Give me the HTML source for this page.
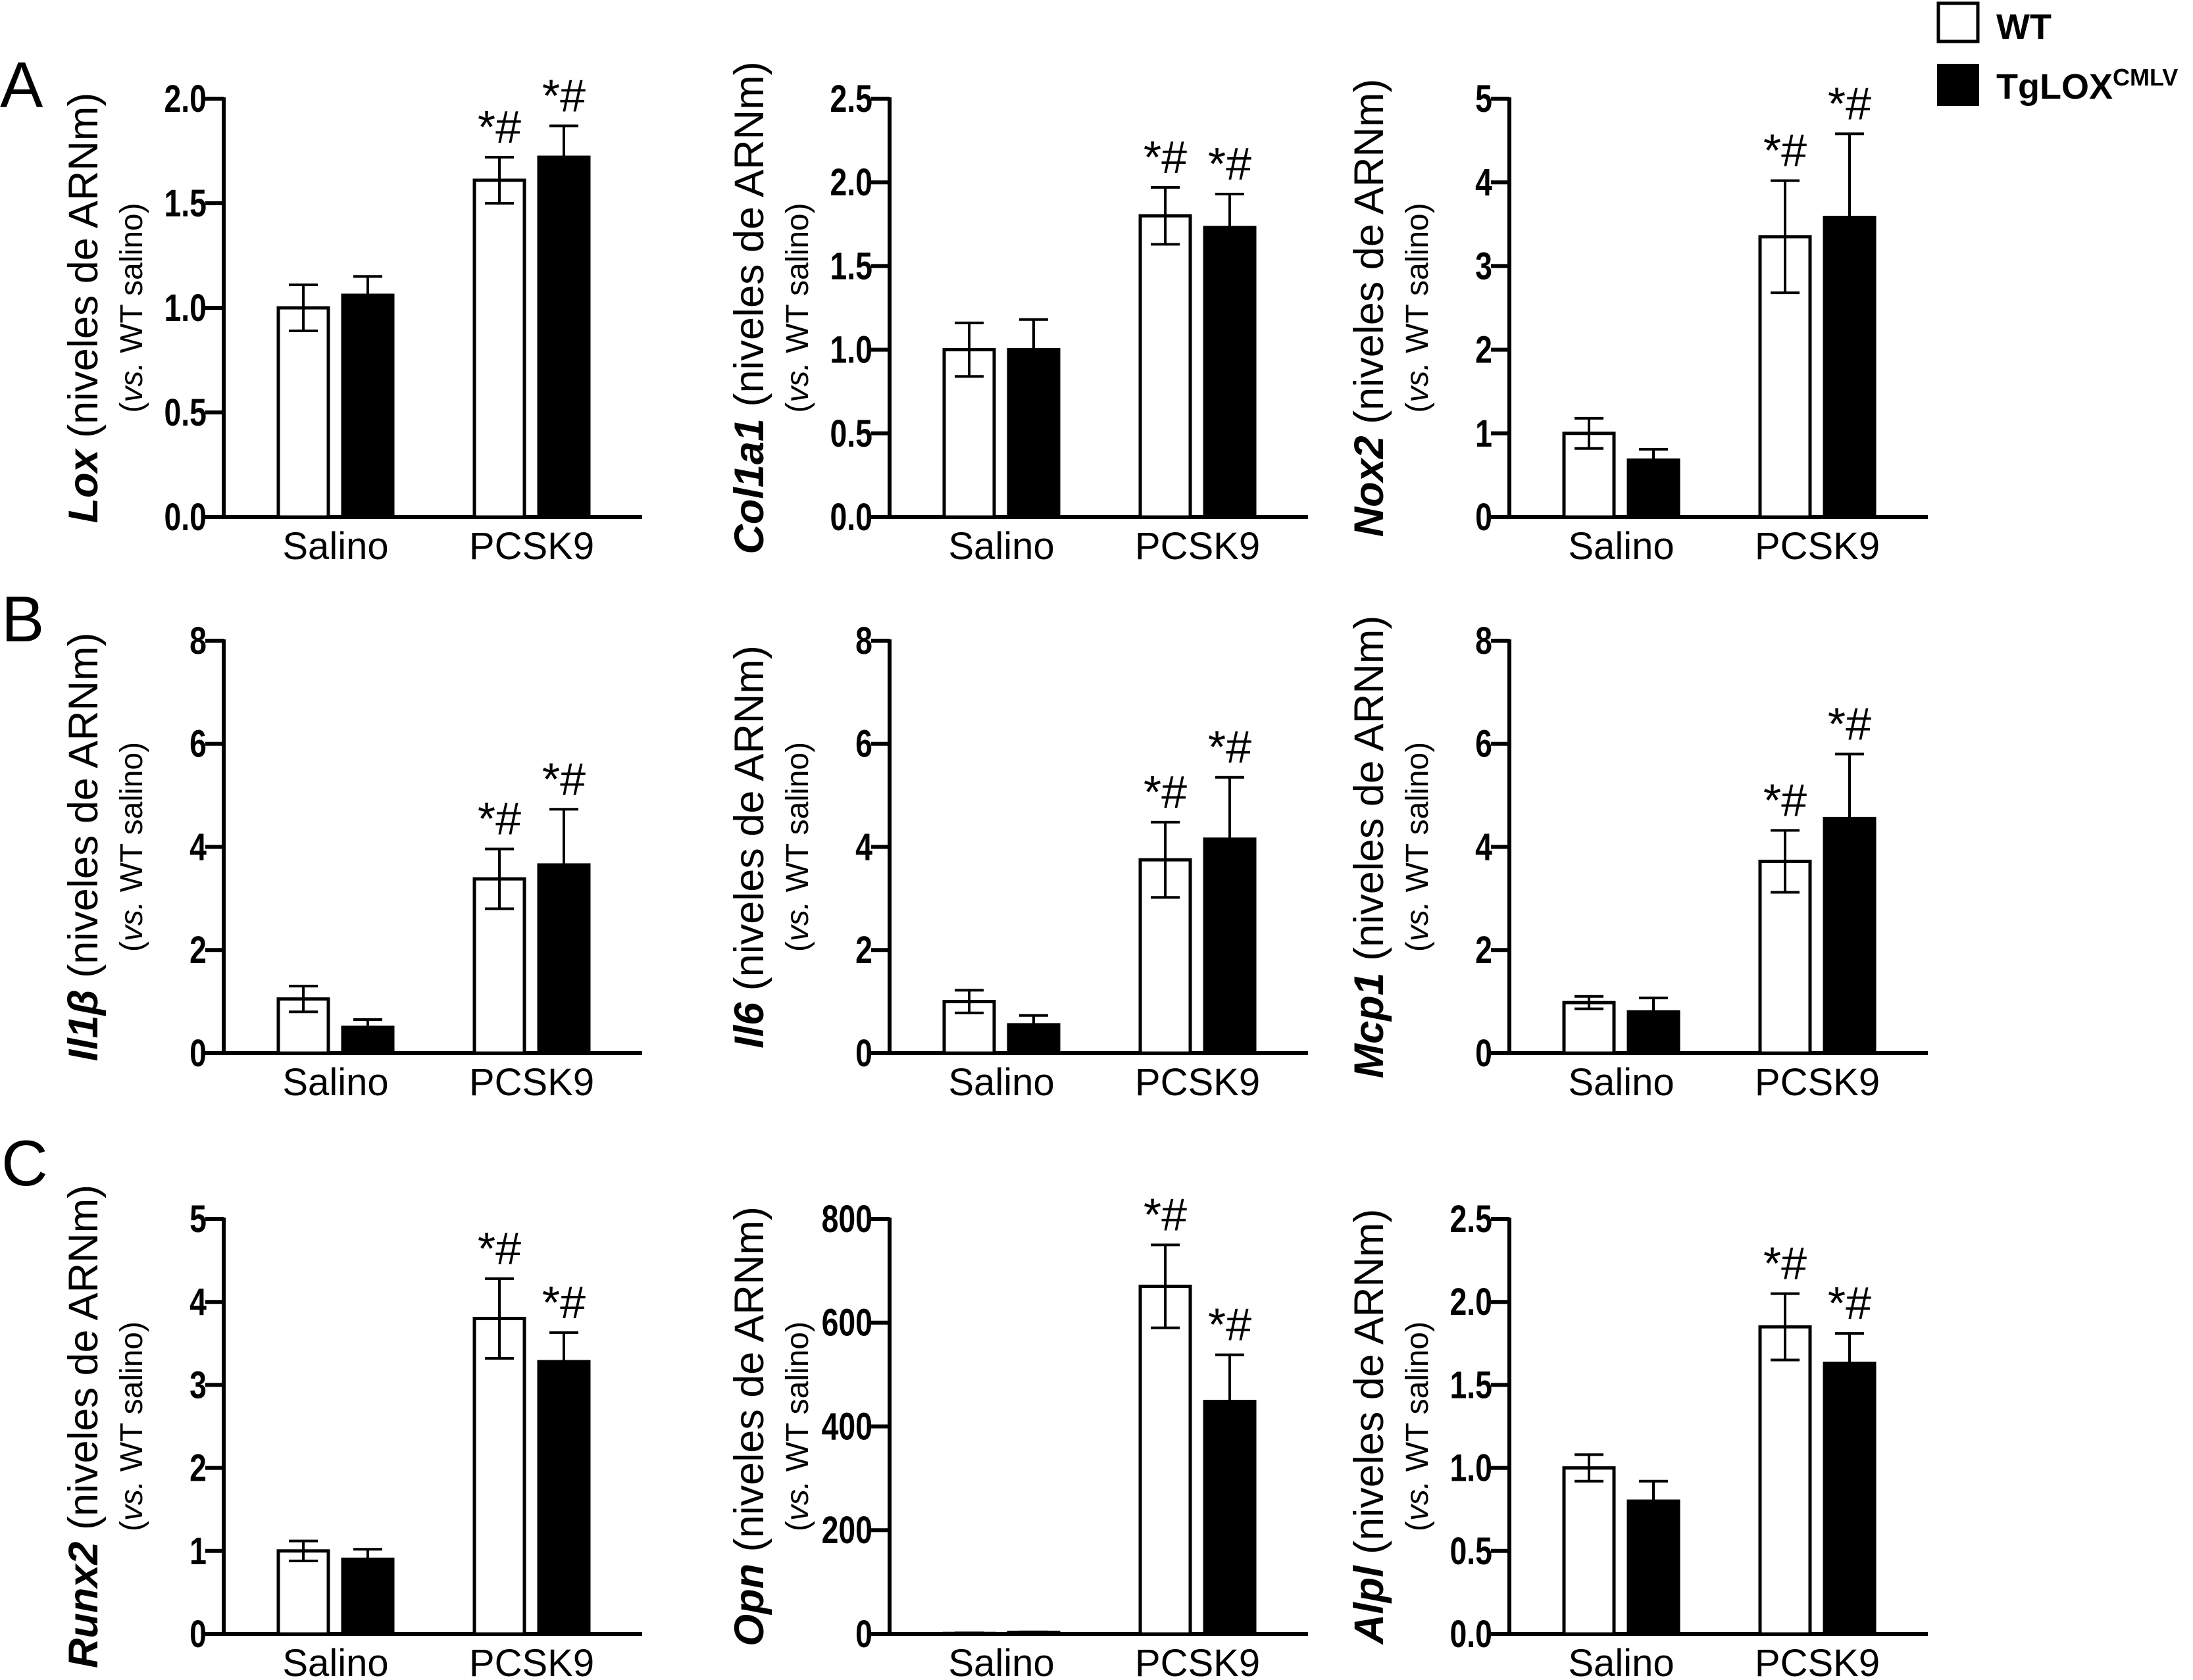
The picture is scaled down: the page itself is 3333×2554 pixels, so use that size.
<!DOCTYPE html>
<html><head><meta charset="utf-8"><style>
html,body{margin:0;padding:0;background:#fff;}
svg{display:block;font-family:"Liberation Sans",sans-serif;}
</style></head><body>
<svg id="fig" width="3333" height="2554" viewBox="0 0 3333 2554" xmlns="http://www.w3.org/2000/svg">
<text x="0" y="163" font-size="98">A</text>
<text x="2" y="975" font-size="98">B</text>
<text x="2" y="1802" font-size="98">C</text>
<g>
<rect x="2946" y="5" width="60" height="58" fill="#fff" stroke="#000" stroke-width="5"/>
<text x="3034" y="59" font-size="54" font-weight="bold">WT</text>
<rect x="2944" y="97" width="64" height="64" fill="#000"/>
<text x="3034" y="150" font-size="54" font-weight="bold">TgLOX<tspan font-size="36" dy="-20">CMLV</tspan></text>
</g>
</svg>
<script>
const genes = ["Lox","Col1a1","Nox2","Il1β","Il6","Mcp1","Runx2","Opn","Alpl"];
const yMaxes = [2.0,2.5,5,8,8,8,5,800,2.5];
const tickSteps = [0.5,0.5,1,2,2,2,1,200,0.5];
const tickDecimals = [1,1,0,0,0,0,0,0,1];
const categories = ["Salino","PCSK9"];
const wtMeans = [[1.0,1.61],[1.0,1.80],[1.0,3.35],[1.05,3.38],[1.0,3.75],[0.98,3.72],[1.0,3.80],[1,670],[1.0,1.85]];
const wtErrs  = [[0.11,0.11],[0.16,0.17],[0.18,0.67],[0.25,0.58],[0.22,0.73],[0.12,0.6],[0.12,0.48],[1,80],[0.08,0.2]];
const tgMeans = [[1.06,1.72],[1.0,1.73],[0.68,3.58],[0.5,3.65],[0.55,4.15],[0.8,4.55],[0.9,3.28],[3,448],[0.8,1.63]];
const tgErrs  = [[0.09,0.15],[0.18,0.2],[0.13,1.0],[0.15,1.08],[0.18,1.2],[0.27,1.25],[0.12,0.35],[1,90],[0.12,0.18]];

const NS="http://www.w3.org/2000/svg";
const svg=document.getElementById('fig');
function el(tag,attrs,parent){const e=document.createElementNS(NS,tag);for(const k in attrs)e.setAttribute(k,attrs[k]);(parent||svg).appendChild(e);return e;}
const axisXs=[340,1352,2294];
const rowTop=[150,974,1853];
const rowZero=[786,1601,2484];

genes.forEach((g,i)=>{
  const r=Math.floor(i/3),c=i%3;
  const ax=axisXs[c],top=rowTop[r],zero=rowZero[r];
  const y=v=>zero-(v/yMaxes[i])*(zero-top);
  const grp=el('g',{});
  
  
  const ya=el('line',{x1:ax,y1:top-2,x2:ax,y2:zero,stroke:'#000','stroke-width':6},grp);
  
  
  const xa=el('line',{x1:ax-28,y1:zero,x2:ax+636,y2:zero,stroke:'#000','stroke-width':6},grp);
  
  
  for(let v=0;v<=yMaxes[i]+1e-9;v+=tickSteps[i]){
    const ty=y(v);
    const tk=el('line',{x1:ax-28,y1:ty,x2:ax,y2:ty,stroke:'#000','stroke-width':6},grp);
    
    
    const t=el('text',{x:ax-26,y:ty+20,'font-size':58,'font-weight':'bold','text-anchor':'end',transform:`translate(${ax-26},0) scale(0.8,1) translate(${-(ax-26)},0)`},grp);
    t.textContent=v.toFixed(tickDecimals[i]);
    
    
  }
  const cy=(top+zero)/2;
  const t1=el('text',{x:0,y:0,'font-size':63,'text-anchor':'middle',transform:`translate(${ax-192},${cy}) rotate(-90)`},grp);
  t1.innerHTML=`<tspan font-weight="bold" font-style="italic">${g}</tspan> (niveles de ARNm)`;
  
  
  const t2=el('text',{x:0,y:0,'font-size':48,'text-anchor':'middle',transform:`translate(${ax-124},${cy}) rotate(-90)`},grp);
  t2.innerHTML=`(<tspan font-style="italic">vs.</tspan> WT salino)`;
  
  
  const bw=76;
  categories.forEach((cat,k)=>{
    const gx=ax+83+k*298;
    const series=[[wtMeans[i][k],wtErrs[i][k],'#fff'],[tgMeans[i][k],tgErrs[i][k],'#000']];
    series.forEach((s,j)=>{
      const bx=gx+j*98;
      const yt=y(s[0]);
      const b=el('rect',{x:bx,y:yt,width:bw,height:zero-yt,fill:s[2],stroke:'#000','stroke-width':5},grp);
      
      
      const cx=bx+bw/2,yh=y(s[0]+s[1]),yl=y(Math.max(0,s[0]-s[1]));
      const e=el('path',{d:`M${cx},${yl}V${yh}M${cx-22},${yh}H${cx+22}M${cx-22},${yl}H${cx+22}`,stroke:'#000','stroke-width':4,fill:'none'},grp);
      
      
      if(k===1){
        const st=el('text',{x:cx,y:yh-22,'font-size':70,'text-anchor':'middle'},grp);
        st.textContent='*#';
        
        
      }
    });
    const lb=el('text',{x:gx+87,y:zero+64,'font-size':58,'text-anchor':'middle'},grp);
    lb.textContent=cat;
    
    
  });
});
</script>
</body></html>
